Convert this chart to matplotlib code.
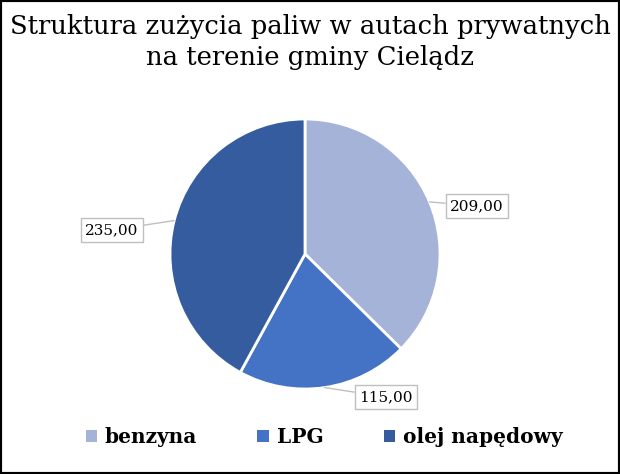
import matplotlib
matplotlib.use("Agg")
import matplotlib.pyplot as plt
from matplotlib.patches import Patch, Rectangle
import numpy as np

categories = ["benzyna", "LPG", "olej napędowy"]
values = [209.0, 115.0, 235.0]
value_labels = ["209,00", "115,00", "235,00"]
colors = ["#A5B3D9", "#4472C4", "#345C9F"]
title = "Struktura zużycia paliw w autach prywatnych\nna terenie gminy Cielądz"

W, H = 620, 474
fig = plt.figure(figsize=(W / 100, H / 100), dpi=100)
ax = fig.add_axes([0, 0, 1, 1])

cx, cy, r = 305, H - 254, 135
wedges, _ = ax.pie(values, colors=colors, startangle=90, counterclock=False,
                   center=(cx, cy), radius=r, frame=True,
                   wedgeprops=dict(edgecolor="white", linewidth=2))
ax.set_xlim(0, W)
ax.set_ylim(0, H)
ax.set_aspect("equal")
ax.axis("off")

# label positions (box centers, px from top-left)
label_pos = [(477, 206), (386, 397), (112, 230)]
for w, lab, (lx, ly) in zip(wedges, value_labels, label_pos):
    ang = np.deg2rad((w.theta1 + w.theta2) / 2)
    px, py = cx + r * np.cos(ang), cy + r * np.sin(ang)
    ty = H - ly
    ax.annotate(lab, xy=(px, py), xytext=(lx, ty), ha="center", va="center",
                fontsize=11, family="DejaVu Serif",
                bbox=dict(boxstyle="square,pad=0.3", fc="white", ec="#BFBFBF", lw=1),
                arrowprops=dict(arrowstyle="-", color="#BFBFBF", lw=1,
                                shrinkA=0, shrinkB=0))

fig.text(0.5, 1 - 42 / H, title, ha="center", va="center", fontsize=18.6,
         family="DejaVu Serif", linespacing=1.28)

handles = [Patch(facecolor=c, edgecolor="none") for c in colors]
fig.legend(handles, categories, loc="center", bbox_to_anchor=(324 / W, 1 - 437 / H),
           ncol=3, frameon=False, handlelength=0.55, handleheight=0.55,
           handletextpad=0.4, columnspacing=3.0,
           prop=dict(family="DejaVu Serif", weight="bold", size=14.5))

fig.patches.append(Rectangle((0, 0), 1, 1, transform=fig.transFigure,
                             fill=False, edgecolor="black", lw=3))
fig.savefig("out.png", dpi=100, facecolor="white")
